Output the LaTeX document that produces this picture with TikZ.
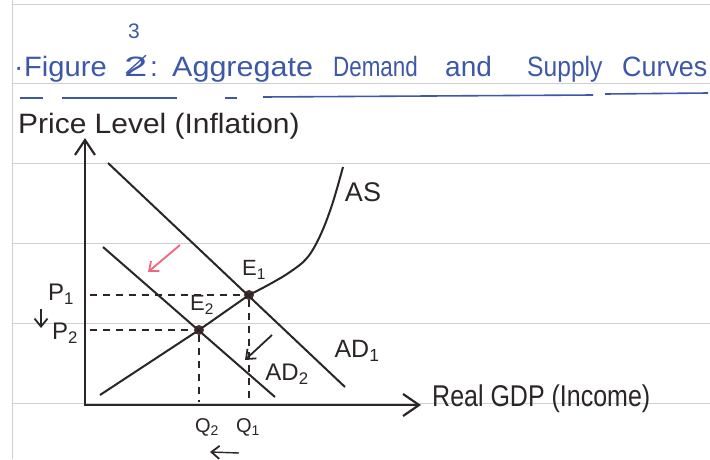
\documentclass[tikz,border=0pt]{standalone}
\usepackage{fontspec}
\setmainfont{Liberation Sans}
\usetikzlibrary{arrows.meta}
\definecolor{ink}{HTML}{2B2526}
\definecolor{blueink}{HTML}{3D58A8}
\definecolor{pinkink}{HTML}{F06680}
\definecolor{rulegray}{HTML}{CFCFCF}
\definecolor{dotc}{HTML}{4A2E30}
\begin{document}
\begin{tikzpicture}[x=1pt,y=-1pt,
  rule/.style={draw=rulegray,line width=1pt},
  axis/.style={draw=ink,line width=2.8pt,line join=miter,
    {Straight Barb[length=15pt,width=20pt,line width=2.2pt]}-{Straight Barb[length=16pt,width=22pt,line width=2.2pt]}},
  curve/.style={draw=ink,line width=2pt},
  dashline/.style={draw=ink,line width=1.6pt,dash pattern=on 7pt off 6pt},
  small arrow/.style={line width=1.8pt,-{Straight Barb[length=8pt,width=13pt,line width=1.8pt]}},
  eqdot/.style={circle,fill=dotc,inner sep=0pt,minimum size=10pt},
  title/.style={text=blueink,font=\fontsize{28}{34}\selectfont,inner sep=0pt,anchor=base west},
  lbl/.style={text=ink,inner sep=0pt},
  uline/.style={draw=blueink,line width=1.6pt}]
\useasboundingbox[fill=white] (0,0) rectangle (710,459);
% notebook rules
\foreach \yy in {4,83,163,243,323,403} \draw[rule] (12,\yy) -- (710,\yy);
\draw[rule] (12,0) -- (12,459);
% title
\node[title] (tdot) at (14,76) {·};
\node[title] (tfig) at (24,76) {\scalebox{1.04}[1]{Figure}};
\node[title] (ttwo) at (124,76) {\scalebox{1.5}[1]{2}};
\node[title] (tcol) at (150,76) {:};
\node[title] (tagg) at (172,76) {\scalebox{1.09}[1]{Aggregate}};
\node[title] (tdem) at (333,76) {\scalebox{0.8}[1]{Demand}};
\node[title] (tand) at (445,76) {and};
\node[title] (tsup) at (527,76) {\scalebox{0.88}[1]{Supply}};
\node[title] (tcur) at (622,76) {\scalebox{0.96}[1]{Curves}};
\node[text=blueink,font=\fontsize{21}{25}\selectfont,inner sep=0pt] (three) at (134,31) {3};
\draw[draw=blueink,line width=1.3pt] (ttwo.south west) ++(2,-3) coordinate (s1) -- ++(20,-18) coordinate (s2);
\draw[uline] (20,98) -- (43,98);
\draw[uline] (62,98) -- (177,98);
\draw[uline] (225,98) -- (237,98);
\draw[uline] (263,97) -- (593,95);
\draw[uline] (605,94) -- (708,93);
% axes
\coordinate (O) at (85,405);
\coordinate (ytip) at (85,138);
\coordinate (xtip) at (421,405);
\draw[axis] (ytip) -- (O) -- (xtip);
\node[lbl,anchor=base west,font=\fontsize{28}{34}\selectfont] (ylab) at (18,133) {\scalebox{1.07}[1]{Price Level (Inflation)}};
\node[lbl,anchor=base west,font=\fontsize{25}{30}\selectfont] (xlab) at (432,406) {\scalebox{1}[1.2]{Real GDP (Income)}};
% equilibrium points
\node[eqdot] (E1) at (249,295) {};
\node[eqdot] (E2) at (199,330) {};
% curves
\coordinate (ad1a) at (108,163);
\coordinate (ad1b) at (345,387);
\coordinate (ad2a) at (103,247);
\coordinate (ad2b) at (275,397);
\coordinate (as0) at (100,395);
\draw[curve] (ad1a) -- (ad1b);
\draw[curve] (ad2a) -- (ad2b);
\draw[curve] (as0) -- (E2.center) -- (E1.center);
\draw[curve] plot[smooth,tension=0.6] coordinates {(E1.center) (270,284) (290,272) (307,258) (320,236) (332,205) (343,167)};
% dashed guides
\coordinate (p1) at (90,295);
\coordinate (p2) at (90,330);
\coordinate (q1) at (249,402);
\coordinate (q2) at (199,402);
\draw[dashline] (p1) -- (E1);
\draw[dashline] (p2) -- (E2);
\draw[dashline] (E1) -- (q1);
\draw[dashline] (E2) -- (q2);
% labels
\node[lbl,font=\fontsize{27}{32}\selectfont] (AS) at (363,192) {AS};
\node[lbl,font=\fontsize{25}{30}\selectfont] (AD1) at (357,351) {AD\textsubscript{1}};
\node[lbl,font=\fontsize{24}{29}\selectfont] (AD2) at (287,374) {AD\textsubscript{2}};
\node[lbl,font=\fontsize{22}{26}\selectfont] (E1l) at (254,270) {E\textsubscript{1}};
\node[lbl,font=\fontsize{22}{26}\selectfont] (E2l) at (202,305) {E\textsubscript{2}};
\node[lbl,font=\fontsize{24}{28}\selectfont] (P1l) at (61,294) {P\textsubscript{1}};
\node[lbl,font=\fontsize{24}{28}\selectfont] (P2l) at (65,333) {P\textsubscript{2}};
\node[lbl,font=\fontsize{20}{24}\selectfont] (Q2l) at (207,427) {Q\textsubscript{2}};
\node[lbl,font=\fontsize{20}{24}\selectfont] (Q1l) at (248,427) {Q\textsubscript{1}};
% shift arrows
\coordinate (ra1) at (180,245);
\coordinate (ra2) at (148,272);
\draw[small arrow,pinkink] (ra1) -- (ra2);
\coordinate (ba1) at (272,335);
\coordinate (ba2) at (245,360);
\draw[small arrow,ink] (ba1) -- (ba2);
\coordinate (da1) at (41,309);
\coordinate (da2) at (41,328);
\draw[small arrow,ink,line width=1.4pt] (da1) -- (da2);
\coordinate (la1) at (239,453);
\coordinate (la2) at (210,452);
\draw[small arrow,ink,line width=1.4pt] (la1) -- (la2);
\end{tikzpicture}
\end{document}
